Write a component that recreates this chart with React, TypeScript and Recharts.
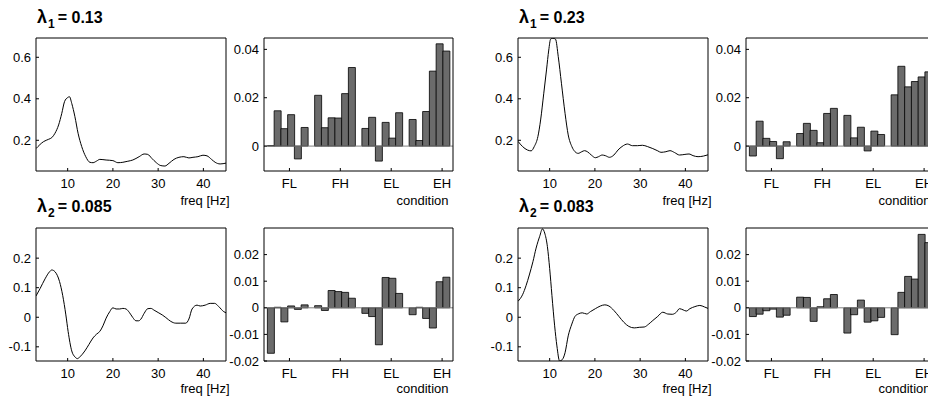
import React from 'react';
import { LineChart, Line, BarChart, Bar, XAxis, YAxis, ReferenceLine } from 'recharts';

const FONT = '"Liberation Sans", Arial, Helvetica, sans-serif';

// spectra (freq in Hz, loading)
const freq1 = [3, 4.7, 5.8, 6.5, 7.2, 8.0, 8.7, 9.3, 10.0, 10.4, 10.9, 11.6, 12.3, 13.1, 14.0, 14.9, 15.6, 16.4, 17.1, 18.5, 20.0, 21.1, 22.2, 23.3, 24.4, 25.8, 26.9, 27.7, 28.6, 29.6, 30.6, 31.5, 32.4, 33.5, 34.6, 35.7, 36.8, 37.7, 38.8, 39.9, 40.8, 41.8, 42.6, 43.7, 45];
const spec1 = [0.16, 0.194, 0.205, 0.213, 0.234, 0.274, 0.33, 0.386, 0.406, 0.41, 0.378, 0.314, 0.234, 0.17, 0.121, 0.094, 0.092, 0.1, 0.108, 0.105, 0.102, 0.092, 0.094, 0.099, 0.105, 0.121, 0.134, 0.132, 0.113, 0.092, 0.078, 0.076, 0.089, 0.108, 0.118, 0.121, 0.115, 0.118, 0.121, 0.128, 0.125, 0.108, 0.094, 0.086, 0.09];

const freq2 = [3, 3.9, 5.0, 6.0, 6.5, 7.2, 8.2, 8.9, 9.6, 10.1, 10.9, 11.6, 12.2, 12.7, 13.8, 14.7, 15.6, 16.4, 17.1, 17.8, 18.5, 19.3, 20.0, 20.7, 21.5, 22.2, 22.9, 23.6, 24.4, 25.1, 25.7, 26.2, 26.9, 27.7, 28.4, 29.1, 30.0, 30.9, 31.7, 32.8, 33.9, 35.0, 36.1, 36.8, 37.5, 38.6, 39.3, 40.4, 41.5, 42.5, 43.4, 44.5, 45];
const spec2 = [0.072, 0.097, 0.13, 0.154, 0.16, 0.154, 0.121, 0.074, 0.008, -0.048, -0.114, -0.134, -0.14, -0.134, -0.114, -0.092, -0.07, -0.057, -0.048, -0.029, -0.003, 0.019, 0.032, 0.028, 0.028, 0.03, 0.028, 0.017, -0.001, -0.012, -0.012, -0.006, 0.013, 0.029, 0.03, 0.024, 0.016, 0.008, -0.001, -0.014, -0.02, -0.02, -0.02, -0.006, 0.028, 0.041, 0.038, 0.041, 0.047, 0.047, 0.036, 0.019, 0.015];

const freq3 = [3, 4.0, 5.1, 5.9, 6.6, 7.4, 8.0, 8.7, 9.3, 9.8, 10.2, 10.7, 11.3, 11.9, 12.6, 13.4, 14.1, 14.9, 15.6, 16.3, 17.1, 17.7, 18.4, 19.2, 20.1, 20.8, 21.6, 22.3, 23.2, 24.2, 25.1, 26.0, 27.2, 28.3, 29.4, 30.5, 31.6, 32.8, 33.9, 34.6, 35.7, 36.6, 37.6, 38.7, 39.9, 40.8, 41.7, 42.8, 44, 45];
const spec3 = [0.195, 0.17, 0.153, 0.149, 0.17, 0.218, 0.298, 0.427, 0.539, 0.635, 0.687, 0.692, 0.687, 0.603, 0.475, 0.33, 0.226, 0.17, 0.145, 0.137, 0.145, 0.15, 0.144, 0.129, 0.116, 0.121, 0.129, 0.126, 0.118, 0.129, 0.153, 0.17, 0.182, 0.174, 0.174, 0.176, 0.17, 0.16, 0.149, 0.142, 0.145, 0.15, 0.141, 0.129, 0.132, 0.134, 0.126, 0.121, 0.124, 0.13];

const freq4 = [3, 4.0, 4.8, 5.5, 6.3, 7.0, 7.8, 8.4, 8.9, 9.5, 10.0, 10.5, 11.1, 11.6, 12.2, 12.8, 13.4, 14.1, 14.9, 15.6, 16.3, 17.2, 18.2, 19.0, 20.1, 21.2, 22.2, 23.1, 24.2, 25.3, 26.4, 27.5, 28.7, 29.8, 30.9, 31.9, 32.8, 33.9, 35.0, 36.1, 37.1, 38.0, 38.7, 39.5, 40.2, 41.0, 42.1, 43.2, 44.2, 45];
const spec4 = [0.054, 0.076, 0.108, 0.143, 0.188, 0.234, 0.274, 0.299, 0.285, 0.239, 0.165, 0.074, -0.029, -0.097, -0.148, -0.143, -0.12, -0.063, -0.023, 0.003, 0.011, 0.015, 0.011, 0.019, 0.029, 0.038, 0.042, 0.038, 0.023, 0.003, -0.017, -0.031, -0.036, -0.034, -0.033, -0.023, -0.011, 0.003, 0.017, 0.011, 0.01, 0.017, 0.029, 0.025, 0.021, 0.029, 0.036, 0.04, 0.035, 0.03];

// condition loadings: 4 groups x 6 bars
const groups = ['FL', 'FH', 'EL', 'EH'];
const cond1 = [
  0.0002, 0.0146, 0.0072, 0.013, -0.0053, 0.0077,
  0.021, 0.0076, 0.0117, 0.0116, 0.0217, 0.0325,
  0.0073, 0.0119, -0.0062, 0.0098, 0.0033, 0.0138,
  0.011, 0.0023, 0.0143, 0.031, 0.0423, 0.0393,
];
const cond2 = [
  -0.0171, 0.0002, -0.0053, 0.0007, -0.0006, 0.0011,
  0.0008, -0.001, 0.0065, 0.0061, 0.0058, 0.0036,
  -0.0021, -0.0033, -0.0139, 0.0114, 0.0111, 0.0054,
  -0.0026, 0.0002, -0.004, -0.0076, 0.0098, 0.0115,
];
const cond3 = [
  -0.0041, 0.0103, 0.0032, 0.0019, -0.0052, 0.0018,
  0.0052, 0.0094, 0.0065, 0.0014, 0.0135, 0.0156,
  0.0127, 0.0034, 0.0078, -0.002, 0.0062, 0.0048,
  0.0212, 0.033, 0.0245, 0.0267, 0.0286, 0.0307,
];
const cond4 = [
  -0.0033, -0.0024, -0.0011, -0.0005, -0.0035, -0.0028,
  0.004, 0.0039, -0.0051, 0.0004, 0.0034, 0.005,
  -0.0095, -0.0026, 0.0029, -0.0054, -0.0049, -0.0036,
  -0.0101, 0.0058, 0.0118, 0.0108, 0.0276, 0.0245,
];

const freqTicks = [10, 20, 30, 40];
const topSpecTicks = [0.2, 0.4, 0.6];
const botSpecTicks = [-0.1, 0, 0.1, 0.2];
const topCondTicks = [0, 0.02, 0.04];
const botCondTicks = [-0.02, -0.01, 0, 0.01, 0.02];

const PER_GROUP = 6;
const SLOTS = 28; // 6 bars + 1 gap per group, axis from 0 to 28
const groupCenters = groups.map((_, g) => g * 7 + 3.5);

const PW = 190;
const BW = 189;
const PH = 133;

const AX = { stroke: '#000', strokeWidth: 1 };
const TICK = { fill: '#000', fontSize: 13, fontFamily: FONT };

function LinePanel({ x, y, freq, values, yDomain, yTicks }: any) {
  const data = freq.map((f: number, i: number) => ({ f, v: values[i] }));
  return (
    <div style={{ position: 'absolute', left: x - 45, top: y - 5 }}>
      <LineChart width={PW + 50} height={PH + 30} data={data} margin={{ top: 4, right: 4, bottom: 0, left: 0 }}>
        <XAxis dataKey="f" type="number" domain={[3, 45]} ticks={freqTicks} allowDataOverflow interval={0}
          height={25} tickSize={-3} tickMargin={11} axisLine={AX} tickLine={AX} tick={TICK} />
        <XAxis xAxisId="t" orientation="top" dataKey="f" type="number" domain={[3, 45]} ticks={freqTicks} allowDataOverflow
          interval={0} height={1} tickSize={-3} axisLine={AX} tickLine={AX} tick={false} />
        <YAxis type="number" domain={yDomain} ticks={yTicks} allowDataOverflow interval={0}
          width={45} tickSize={-3} tickMargin={8} axisLine={AX} tickLine={AX} tick={TICK} />
        <YAxis yAxisId="r" orientation="right" type="number" domain={yDomain} ticks={yTicks} allowDataOverflow
          interval={0} width={1} tickSize={-3} axisLine={AX} tickLine={AX} tick={false} />
        <Line dataKey="v" type="monotone" stroke="#000" strokeWidth={1} dot={false} isAnimationActive={false} />
      </LineChart>
    </div>
  );
}

function BarPanel({ x, y, values, yDomain, yTicks }: any) {
  const data = Array.from({ length: SLOTS - 1 }, (_, k) => {
    const slot = k + 1;
    const g = Math.floor((slot - 1) / 7);
    const i = (slot - 1) % 7;
    return { slot, v: i < PER_GROUP ? values[g * PER_GROUP + i] : null };
  });
  const half = BW / SLOTS / 2;
  return (
    <div style={{ position: 'absolute', left: x - 45, top: y - 5 }}>
      <BarChart width={BW + 50} height={PH + 30} data={data} margin={{ top: 4, right: 4, bottom: 0, left: 0 }}
        barCategoryGap={0} barGap={0}>
        <XAxis xAxisId="cat" dataKey="slot" type="category" hide padding={{ left: half, right: half }} />
        <XAxis xAxisId="b" type="number" domain={[0, SLOTS]} ticks={groupCenters} allowDataOverflow interval={0}
          tickFormatter={(v: number) => groups[groupCenters.indexOf(v)]}
          height={25} tickSize={-3} tickMargin={11} axisLine={AX} tickLine={AX} tick={TICK} />
        <XAxis xAxisId="t" orientation="top" type="number" domain={[0, SLOTS]} ticks={groupCenters} allowDataOverflow
          interval={0} height={1} tickSize={-3} axisLine={AX} tickLine={AX} tick={false} />
        <YAxis type="number" domain={yDomain} ticks={yTicks} allowDataOverflow interval={0}
          width={45} tickSize={-3} tickMargin={8} axisLine={AX} tickLine={AX} tick={TICK} />
        <YAxis yAxisId="r" orientation="right" type="number" domain={yDomain} ticks={yTicks} allowDataOverflow
          interval={0} width={1} tickSize={-3} axisLine={AX} tickLine={AX} tick={false} />
        <ReferenceLine y={0} xAxisId="b" stroke="#808080" strokeWidth={1} />
        <Bar xAxisId="cat" dataKey="v" fill="#6b6b6b" stroke="#000" strokeWidth={0.8} isAnimationActive={false} />
      </BarChart>
    </div>
  );
}

function Title({ x, y, sub, value }: any) {
  return (
    <text x={x} y={y} fontWeight="bold" fontFamily={FONT} fill="#000">
      <tspan fontSize={18}>λ</tspan>
      <tspan fontSize={12} dy={5} dx={1}>{sub}</tspan>
      <tspan fontSize={16} dy={-5} dx={3}>= {value}</tspan>
    </text>
  );
}

export default function App() {
  const topDomain = [0.052, 0.693];
  const botDomain = [-0.148, 0.302];
  const topBarDomain = [-0.0103, 0.0447];
  const botBarDomain = [-0.02, 0.03];
  const rowTop = 38;
  const rowBot = 228;
  return (
    <div style={{ position: 'absolute', left: 0, top: 0, width: 928, height: 400, overflow: 'hidden', background: '#fff', fontFamily: FONT }}>
      <LinePanel x={36} y={rowTop} freq={freq1} values={spec1} yDomain={topDomain} yTicks={topSpecTicks} />
      <BarPanel x={264} y={rowTop} values={cond1} yDomain={topBarDomain} yTicks={topCondTicks} />
      <LinePanel x={36} y={rowBot} freq={freq2} values={spec2} yDomain={botDomain} yTicks={botSpecTicks} />
      <BarPanel x={264} y={rowBot} values={cond2} yDomain={botBarDomain} yTicks={botCondTicks} />
      <LinePanel x={518} y={rowTop} freq={freq3} values={spec3} yDomain={topDomain} yTicks={topSpecTicks} />
      <BarPanel x={746} y={rowTop} values={cond3} yDomain={topBarDomain} yTicks={topCondTicks} />
      <LinePanel x={518} y={rowBot} freq={freq4} values={spec4} yDomain={botDomain} yTicks={botSpecTicks} />
      <BarPanel x={746} y={rowBot} values={cond4} yDomain={botBarDomain} yTicks={botCondTicks} />
      <svg width={928} height={400} style={{ position: 'absolute', left: 0, top: 0, pointerEvents: 'none' }}>
        <Title x={37} y={23} sub="1" value="0.13" />
        <Title x={519} y={23} sub="1" value="0.23" />
        <Title x={37} y={212} sub="2" value="0.085" />
        <Title x={519} y={212} sub="2" value="0.083" />
        <g fontSize={13} fontFamily={FONT} fill="#000" textAnchor="end">
          <text x={229.5} y={205}>freq [Hz]</text>
          <text x={711.5} y={205}>freq [Hz]</text>
          <text x={229.5} y={393}>freq [Hz]</text>
          <text x={711.5} y={393}>freq [Hz]</text>
          <text x={448.5} y={205}>condition</text>
          <text x={930.5} y={205}>condition</text>
          <text x={448.5} y={393}>condition</text>
          <text x={930.5} y={393}>condition</text>
        </g>
      </svg>
    </div>
  );
}
